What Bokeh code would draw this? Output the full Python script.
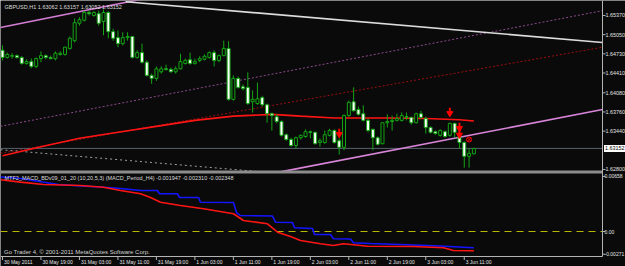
from bokeh.plotting import figure
from bokeh.models import Range1d
from bokeh.embed import file_html
from bokeh.resources import INLINE
from bokeh.core.properties import value

# ---------------- DATA ----------------
opens = [1.6479, 1.6467, 1.6469, 1.6470, 1.6467, 1.6457, 1.6460, 1.6452, 1.6465, 1.6470,
         1.6467, 1.6465, 1.6472, 1.6472, 1.6482, 1.6495, 1.6524, 1.6529, 1.6542, 1.6537,
         1.6540, 1.6527, 1.6542, 1.6510, 1.6500, 1.6490, 1.6500, 1.6502, 1.6467, 1.6475,
         1.6459, 1.6437, 1.6432, 1.6443, 1.6448, 1.6447, 1.6443, 1.6448, 1.6457, 1.6463,
         1.6457, 1.6462, 1.6464, 1.6467, 1.6475, 1.6462, 1.6470, 1.6482, 1.6397, 1.6432,
         1.6418, 1.6417, 1.6393, 1.6390, 1.6400, 1.6388, 1.6373, 1.6368, 1.6360, 1.6338,
         1.6330, 1.6320, 1.6333, 1.6335, 1.6343, 1.6342, 1.6325, 1.6325, 1.6337, 1.6345,
         1.6328, 1.6317, 1.6370, 1.6393, 1.6380, 1.6373, 1.6362, 1.6347, 1.6333, 1.6323,
         1.6358, 1.6360, 1.6362, 1.6362, 1.6368, 1.6367, 1.6358, 1.6373, 1.6365, 1.6350,
         1.6343, 1.6337, 1.6343, 1.6337, 1.6357, 1.6335, 1.6325, 1.6302, 1.63062]
highs = [1.6487, 1.6475, 1.6474, 1.6472, 1.6469, 1.6464, 1.6465, 1.6467, 1.6477, 1.6472,
         1.6470, 1.6477, 1.6477, 1.6485, 1.6502, 1.6532, 1.6534, 1.6545, 1.6545, 1.6544,
         1.6545, 1.6547, 1.6544, 1.6515, 1.6512, 1.6509, 1.6509, 1.6502, 1.6479, 1.6490,
         1.6462, 1.6440, 1.6452, 1.6452, 1.6455, 1.6450, 1.6452, 1.6473, 1.6465, 1.6475,
         1.6465, 1.6469, 1.6472, 1.6477, 1.6479, 1.6472, 1.6495, 1.6494, 1.6437, 1.6435,
         1.6422, 1.6442, 1.6412, 1.6425, 1.6403, 1.6390, 1.6375, 1.6372, 1.6362, 1.6340,
         1.6333, 1.6335, 1.6338, 1.6347, 1.6345, 1.6343, 1.6332, 1.6345, 1.6348, 1.6347,
         1.6332, 1.6372, 1.6395, 1.6417, 1.6385, 1.6387, 1.6365, 1.6348, 1.6335, 1.6358,
         1.6372, 1.6370, 1.6373, 1.6375, 1.6375, 1.6368, 1.6375, 1.6378, 1.6368, 1.6352,
         1.6345, 1.6347, 1.6345, 1.6358, 1.6358, 1.6338, 1.6327, 1.6315, 1.63157]
lows = [1.6462, 1.6465, 1.6465, 1.6465, 1.6455, 1.6455, 1.6449, 1.6449, 1.6459, 1.6464,
        1.6464, 1.6462, 1.6470, 1.6470, 1.6480, 1.6492, 1.6520, 1.6527, 1.6537, 1.6535,
        1.6520, 1.6504, 1.6499, 1.6495, 1.6484, 1.6487, 1.6495, 1.6465, 1.6465, 1.6457,
        1.6435, 1.6423, 1.6428, 1.6440, 1.6445, 1.6442, 1.6440, 1.6447, 1.6455, 1.6455,
        1.6455, 1.6459, 1.6462, 1.6465, 1.6452, 1.6459, 1.6469, 1.6395, 1.6395, 1.6415,
        1.6412, 1.6388, 1.6375, 1.6388, 1.6385, 1.6358, 1.6345, 1.6357, 1.6335, 1.6328,
        1.6318, 1.6315, 1.6330, 1.6333, 1.6332, 1.6322, 1.6318, 1.6323, 1.6335, 1.6323,
        1.6305, 1.6312, 1.6368, 1.6377, 1.6370, 1.6360, 1.6342, 1.6312, 1.6320, 1.6322,
        1.6350, 1.6345, 1.6360, 1.6360, 1.6362, 1.6355, 1.6357, 1.6365, 1.6340, 1.6340,
        1.6338, 1.6335, 1.6333, 1.6335, 1.6333, 1.6315, 1.6283, 1.6283, 1.63052]
closes = [1.6467, 1.6472, 1.6470, 1.6467, 1.6457, 1.6460, 1.6452, 1.6465, 1.6470, 1.6467,
          1.6465, 1.6474, 1.6474, 1.6484, 1.6499, 1.6525, 1.6530, 1.6542, 1.6540, 1.6542,
          1.6524, 1.6542, 1.6510, 1.6499, 1.6490, 1.6500, 1.6502, 1.6467, 1.6475, 1.6459,
          1.6437, 1.6432, 1.6448, 1.6448, 1.6447, 1.6443, 1.6448, 1.6460, 1.6462, 1.6457,
          1.6460, 1.6465, 1.6469, 1.6475, 1.6462, 1.6470, 1.6482, 1.6397, 1.6432, 1.6417,
          1.6415, 1.6390, 1.6397, 1.6398, 1.6388, 1.6373, 1.6370, 1.6360, 1.6337, 1.6330,
          1.6320, 1.6333, 1.6337, 1.6343, 1.6342, 1.6323, 1.6328, 1.6338, 1.6345, 1.6325,
          1.6317, 1.6370, 1.6392, 1.6378, 1.6372, 1.6362, 1.6345, 1.6333, 1.6322, 1.6358,
          1.6360, 1.6362, 1.6365, 1.6370, 1.6367, 1.6358, 1.6373, 1.6367, 1.6350, 1.6342,
          1.6340, 1.6345, 1.6335, 1.6357, 1.6342, 1.6325, 1.6302, 1.6307, 1.63152]
bars = list(range(len(opens)))

ma_bars = [0, 8, 16, 24, 32, 40, 48, 56, 62, 69, 80, 88, 95, 98]
ma_values = [1.6303, 1.6318, 1.6332, 1.6342, 1.6352, 1.6362, 1.6369, 1.6372, 1.6369,
             1.6366, 1.6366, 1.6365, 1.6363, 1.6361]

upper_trend_bars = [-0.42, 35.0]
upper_trend_prices = [1.6517, 1.6574]
white_trend_bars = [25.6, 124.74]
white_trend_prices = [1.6560, 1.6492]
lower_trend_bars = [57.8, 124.74]
lower_trend_prices = [1.6276, 1.6380]
purple_dot_bars = [-0.42, 124.74]
purple_dot_prices = [1.6352, 1.6545]
red_dot_bars = [-0.42, 124.74]
red_dot_prices = [1.6307, 1.6484]
gray_dot_bars = [-0.42, 52.6]
gray_dot_prices = [1.6313, 1.6277]

arrow_bars = [70, 93, 95, 95]
arrow_prices = [1.6342, 1.6377, 1.6352, 1.6341]
stop_bars = [97]
stop_prices = [1.6330]

macd_blue_bars = [-0.42, 3.74, 8.32, 11.64, 16.22, 20.37, 24.53, 28.69, 32.22, 32.64,
                  36.38, 36.80, 40.75, 41.16, 48.02, 48.65, 49.48, 56.13, 56.76, 60.29,
                  60.71, 64.45, 64.86, 68.19, 68.81, 72.35, 72.97, 76.51, 84.20, 91.06,
                  95.84, 98.0]
macd_blue_values = [0.00652, 0.00634, 0.00592, 0.00562, 0.00544, 0.00532, 0.00514, 0.00490,
                    0.00490, 0.00451, 0.00451, 0.00407, 0.00407, 0.00350, 0.00347, 0.00227,
                    0.00191, 0.00185, 0.00111, 0.00108, 0.00044, 0.00036, -0.00036, -0.00036,
                    -0.00087, -0.00090, -0.00135, -0.00144, -0.00159, -0.00173, -0.00188,
                    -0.001947]
macd_red_bars = [-0.42, 3.74, 8.52, 16.22, 21.0, 24.53, 28.69, 30.77, 32.85, 37.0, 41.79,
                 48.02, 50.10, 55.09, 57.17, 59.88, 61.95, 66.11, 68.81, 70.89, 72.97,
                 75.88, 85.45, 91.68, 93.76, 98.0]
macd_red_values = [0.00618, 0.00590, 0.00562, 0.00550, 0.00530, 0.00490, 0.00451, 0.00407,
                   0.00350, 0.00311, 0.00272, 0.00212, 0.00132, 0.00092, -0.00008, -0.00060,
                   -0.00108, -0.00147, -0.00167, -0.00147, -0.00159, -0.00176, -0.00179,
                   -0.00195, -0.00227, -0.00231]

time_ticks = [0, 8, 16, 24, 32, 40, 48, 56, 64, 72, 80, 88, 96]
time_labels = ["30 May 2011", "30 May 19:00", "31 May 03:00", "31 May 11:00", "31 May 19:00",
               "1 Jun 03:00", "1 Jun 11:00", "1 Jun 19:00", "2 Jun 03:00", "2 Jun 11:00",
               "2 Jun 19:00", "3 Jun 03:00", "3 Jun 11:00"]
price_ticks = [1.65370, 1.65050, 1.64730, 1.64410, 1.64080, 1.63760, 1.63440, 1.62800]
price_tick_labels = ["1.65370", "1.65050", "1.64730", "1.64410", "1.64080", "1.63760",
                     "1.63440", "1.62800"]
last_price = 1.63152
last_price_label = "1.63152"
macd_ticks = [0.006586, 0.0, -0.00271]
macd_tick_labels = ["0.00658", "0.00", "-0.00271"]

title_text = "GBPUSD,H1  1.63062 1.63157 1.63052 1.63152"
macd_title = "MTF2_MACD_BDv09_01_20 (10,20,5,3)  (MACD_Period_H4) -0.001947 -0.002310 -0.002348"
copyright_text = "Go Trader 4, \u00a9 2001-2011 MetaQuotes Software Corp."

# ---------------- LAYOUT / STYLE ----------------
W, H = 625, 266
BG = "#0a0a0a"
GREEN = "#14a514"
AXIS = "#b4b4b4"
TXT = "#e4e4e4"
FONT = value("Liberation Sans")

BAR_PX = 4.81                 # pixels per bar
X0 = -2.0 / BAR_PX            # bar value at the left edge
P_TOP, PX = 1.65620, 0.00016688   # price at top edge, price per pixel
M_ZERO_Y, MPX = 231.0, 0.0001196  # macd zero line pixel row, macd per pixel


def bx(px):
    return X0 + px / BAR_PX


def py(pix):
    return P_TOP - pix * PX


def my(pix):
    return (M_ZERO_Y - pix) * MPX


p = figure(width=W, height=H, x_range=Range1d(bx(0), bx(W)), y_range=Range1d(py(H), py(0)),
           x_axis_type=None, y_axis_type=None, output_backend="svg", toolbar_location=None,
           min_border=0, min_border_left=0, min_border_right=0, min_border_top=0,
           min_border_bottom=0, background_fill_color=BG, border_fill_color=BG,
           outline_line_color=None)
p.extra_y_ranges = {"macd": Range1d(my(H), my(0))}

# ---- price panel: channel / trend lines
p.line(purple_dot_bars, purple_dot_prices, line_color="#8e4a8e", line_width=1, line_dash="2 2")
p.line(red_dot_bars, red_dot_prices, line_color="#9a1010", line_width=1, line_dash="2 2")
p.line(gray_dot_bars, gray_dot_prices, line_color="#a0a0a0", line_width=1, line_dash="2 3")
p.segment(x0=[bx(0)], y0=[last_price], x1=[bx(602)], y1=[last_price], line_color="#56626e",
          line_width=1)
p.line(ma_bars, ma_values, line_color="#ff1414", line_width=1.6)
p.line(upper_trend_bars, upper_trend_prices, line_color="#d47cd4", line_width=1.6)
p.line(white_trend_bars, white_trend_prices, line_color="#dcdcdc", line_width=1.6)
p.line(lower_trend_bars, lower_trend_prices, line_color="#d884d8", line_width=1.6)

# ---- candles
tops = [max(o, c) for o, c in zip(opens, closes)]
bots = [min(o, c) for o, c in zip(opens, closes)]
fills = ["#ffffff" if c < o else BG for o, c in zip(opens, closes)]
p.segment(x0=bars, y0=highs, x1=bars, y1=lows, line_color=GREEN, line_width=1)
p.vbar(x=bars, top=tops, bottom=bots, width=0.62, fill_color=fills, line_color=GREEN,
       line_width=1)

# ---- signal arrows
p.vbar(x=arrow_bars, top=[a + 3.5 * PX for a in arrow_prices],
       bottom=[a - 0.5 * PX for a in arrow_prices], width=0.4, fill_color="#ff0000",
       line_color=None)
p.scatter(x=arrow_bars, y=[a - 2.0 * PX for a in arrow_prices], marker="inverted_triangle",
          size=6, fill_color="#ff0000", line_color="#ff0000")
p.scatter(x=stop_bars, y=stop_prices, marker="circle_x", size=5, fill_color=None,
          line_color="#ff0000", line_width=1)

# ---- panel separator and frame lines
p.quad(left=[bx(0)], right=[bx(602)], bottom=[py(173)], top=[py(170)], fill_color="#8c8c8c",
       line_color=None)
p.segment(x0=[bx(602)], y0=[py(0)], x1=[bx(602)], y1=[py(256)], line_color=AXIS, line_width=1)
p.segment(x0=[bx(0)], y0=[py(256)], x1=[bx(602)], y1=[py(256)], line_color=AXIS, line_width=1)

# ---- price scale
p.segment(x0=[bx(602)] * len(price_ticks), y0=price_ticks, x1=[bx(605)] * len(price_ticks),
          y1=price_ticks, line_color=AXIS)
p.text(x=[bx(605)] * len(price_ticks), y=price_ticks, text=price_tick_labels,
       text_font=FONT, text_font_size="5.4px", text_color=TXT, text_align="left",
       text_baseline="middle")
p.quad(left=[bx(603.5)], right=[bx(W + 2)], bottom=[last_price - 3.5 * PX],
       top=[last_price + 3.5 * PX], fill_color="#ffffff", line_color=None)
p.text(x=[bx(604.5)], y=[last_price], text=[last_price_label], text_font=FONT,
       text_font_size="5.4px", text_color="#000000", text_align="left", text_baseline="middle")
p.text(x=[bx(4)], y=[py(6)], text=[title_text], text_font=FONT, text_font_size="5.5px",
       text_color="#dcdcdc", text_align="left", text_baseline="middle")

# ---- indicator panel
p.segment(x0=[bx(0)], y0=[0.0], x1=[bx(602)], y1=[0.0], line_color="#b8b800", line_width=1,
          line_dash="7 5", y_range_name="macd")
p.line(macd_blue_bars, macd_blue_values, line_color="#1414ff", line_width=1.6,
       y_range_name="macd")
p.line(macd_red_bars, macd_red_values, line_color="#ff1414", line_width=1.6,
       y_range_name="macd")
p.segment(x0=[bx(602)] * len(macd_ticks), y0=macd_ticks, x1=[bx(605)] * len(macd_ticks),
          y1=macd_ticks, line_color=AXIS, y_range_name="macd")
p.text(x=[bx(604)] * len(macd_ticks), y=macd_ticks, text=macd_tick_labels, text_font=FONT,
       text_font_size="5px", text_color=TXT, text_align="left", text_baseline="middle",
       y_range_name="macd")
p.text(x=[bx(4)], y=[my(177.5)], text=[macd_title], text_font=FONT, text_font_size="5.5px",
       text_color="#dcdcdc", text_align="left", text_baseline="middle", y_range_name="macd")
p.text(x=[bx(3.5)], y=[my(251)], text=[copyright_text], text_font=FONT,
       text_font_size="6px", text_color="#d0d0d0", text_align="left", text_baseline="middle",
       y_range_name="macd")

# ---- time scale
p.segment(x0=time_ticks, y0=[my(256)] * len(time_ticks), x1=time_ticks,
          y1=[my(259.5)] * len(time_ticks), line_color=AXIS, y_range_name="macd")
p.text(x=[t + 0.3 for t in time_ticks], y=[my(261.5)] * len(time_ticks), text=time_labels,
       text_font=FONT, text_font_size="5px", text_color=TXT, text_align="left",
       text_baseline="middle", y_range_name="macd")

open("out.html", "w").write(file_html(p, INLINE))
